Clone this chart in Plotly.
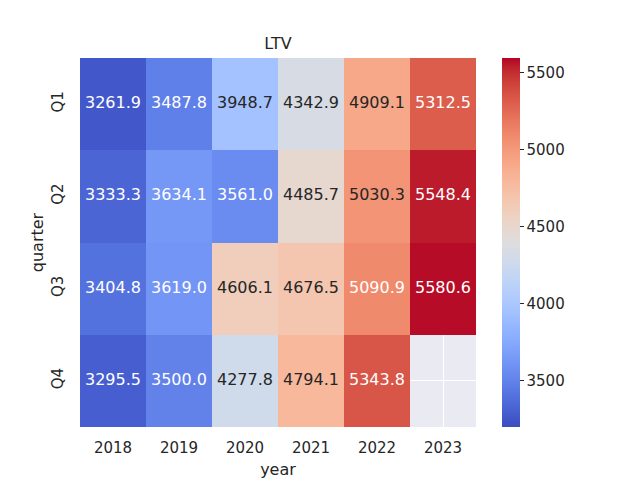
import plotly.graph_objects as go

years = ["2018", "2019", "2020", "2021", "2022", "2023"]
quarters = ["Q1", "Q2", "Q3", "Q4"]
q1 = [3261.9, 3487.8, 3948.7, 4342.9, 4909.1, 5312.5]
q2 = [3333.3, 3634.1, 3561.0, 4485.7, 5030.3, 5548.4]
q3 = [3404.8, 3619.0, 4606.1, 4676.5, 5090.9, 5580.6]
q4 = [3295.5, 3500.0, 4277.8, 4794.1, 5343.8, None]
z = [q1, q2, q3, q4]
cb_ticks = [3500, 4000, 4500, 5000, 5500]
zmin, zmax = 3200, 5597

cw = [(59,76,192),(68,90,204),(77,104,215),(87,117,225),(98,130,234),(108,142,241),
      (119,154,247),(130,165,251),(141,176,254),(152,185,255),(163,194,255),(174,201,253),
      (184,208,249),(194,213,244),(204,217,238),(213,219,230),(221,221,221),(229,216,209),
      (236,211,197),(241,204,184),(245,196,172),(247,187,159),(247,177,147),(247,166,134),
      (244,154,123),(241,141,111),(236,127,99),(229,112,89),(222,96,77),(213,80,67),
      (203,62,56),(192,40,47),(180,4,38)]
n = len(cw) - 1
colorscale = [[i / n, "rgb(%d,%d,%d)" % c] for i, c in enumerate(cw)]

def color_at(v):
    t = min(max((v - zmin) / (zmax - zmin), 0), 1) * n
    i = min(int(t), n - 1)
    f = t - i
    return [cw[i][k] + (cw[i + 1][k] - cw[i][k]) * f for k in range(3)]

def lum(rgb):
    out = []
    for c in rgb:
        c = c / 255
        out.append(c / 12.92 if c <= 0.03928 else ((c + 0.055) / 1.055) ** 2.4)
    return 0.2126 * out[0] + 0.7152 * out[1] + 0.0722 * out[2]

fig = go.Figure(go.Heatmap(
    z=z, x=years, y=quarters, colorscale=colorscale, zmin=zmin, zmax=zmax,
    xgap=0, ygap=0, hoverongaps=False,
    colorbar=dict(x=1.0657, xanchor="left", xref="paper", y=0.5, yanchor="middle",
                  len=1, lenmode="fraction", thickness=18, thicknessmode="pixels",
                  xpad=0, ypad=0,
                  outlinewidth=0, tickvals=cb_ticks, ticks="outside", ticklen=4,
                  tickcolor="#262626", tickwidth=1.2,
                  tickfont=dict(family="DejaVu Sans", size=15, color="#262626")),
))

groups = {"white": ([], [], []), "#262626": ([], [], [])}
for qi, row in enumerate(z):
    for yi, v in enumerate(row):
        if v is None:
            continue
        col = "#262626" if lum(color_at(v)) > 0.408 else "white"
        gx, gy, gt = groups[col]
        gx.append(years[yi]); gy.append(quarters[qi]); gt.append("%.1f" % v)
for col, (gx, gy, gt) in groups.items():
    fig.add_trace(go.Scatter(x=gx, y=gy, text=gt, mode="text", showlegend=False,
                             hoverinfo="skip",
                             textfont=dict(family="DejaVu Sans", size=16, color=col)))

fig.update_layout(
    width=640, height=480,
    margin=dict(l=80, r=164, t=58, b=53),
    paper_bgcolor="white", plot_bgcolor="#EAEAF2",
    font=dict(family="DejaVu Sans", color="#262626"),
    title=dict(text="LTV", x=0.5, xref="paper", xanchor="center",
               y=(480 - 43) / 480, yref="container", yanchor="middle",
               font=dict(family="DejaVu Sans", size=16, color="#262626")),
    xaxis=dict(type="category", automargin=False,
               title=dict(text="year", font=dict(size=16), standoff=7),
               tickfont=dict(size=15), showgrid=True, gridcolor="white", gridwidth=1,
               zeroline=False, showline=False, ticks="", ticklabelstandoff=10),
    yaxis=dict(type="category", automargin=False,
               title=dict(text="quarter", font=dict(size=16), standoff=1),
               tickfont=dict(size=15), tickangle=-90, autorange="reversed",
               showgrid=True, gridcolor="white", gridwidth=1,
               zeroline=False, showline=False, ticks="", ticklabelstandoff=13),
)

fig.write_html("out.html")
